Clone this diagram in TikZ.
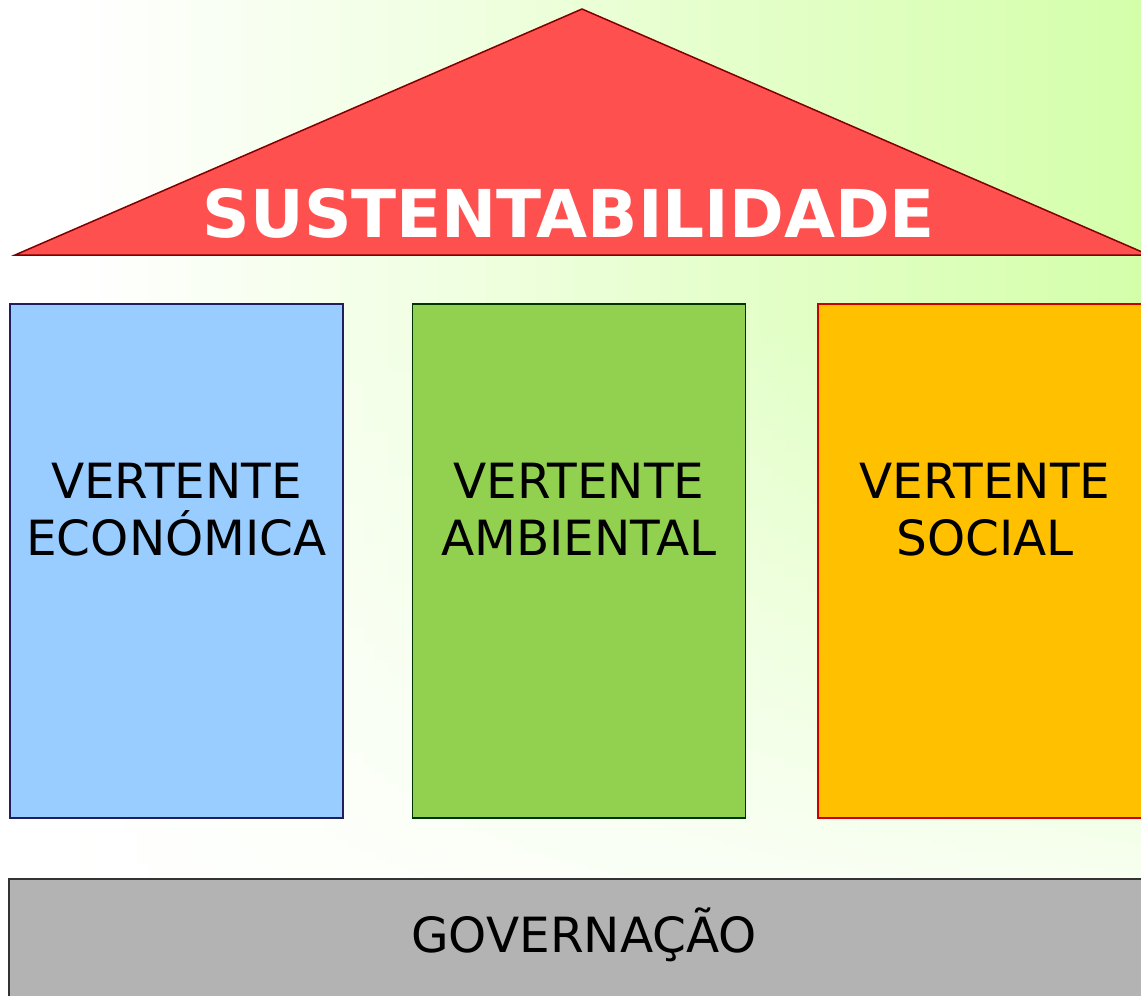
\documentclass[tikz,border=0pt]{standalone}
\usepackage{fontspec}
\setmainfont{DejaVu Sans}
\usetikzlibrary{fadings}
\definecolor{bggreen}{HTML}{D4FFAA}
\definecolor{roof}{HTML}{FF5050}
\definecolor{roofline}{HTML}{800000}
\definecolor{ecofill}{HTML}{99CCFF}
\definecolor{ecoline}{HTML}{1F1F5F}
\definecolor{ambfill}{HTML}{92D050}
\definecolor{ambline}{HTML}{003300}
\definecolor{socfill}{HTML}{FFC000}
\definecolor{socline}{HTML}{CC0000}
\definecolor{govfill}{HTML}{B3B3B3}
\definecolor{govline}{HTML}{333333}
\tikzset{
  pillar/.style={draw, line width=1.5pt, minimum width=333pt, minimum height=514pt, inner sep=0pt},
  pillartext/.style={font=\fontsize{48.5}{57}\selectfont, align=center, anchor=base, inner sep=0pt},
}
\begin{document}
\begin{tikzpicture}[x=1pt,y=-1pt]
\useasboundingbox (0,0) rectangle (1141,996);
\begin{scope}
\clip (0,0) rectangle (1141,996);
% background
\shade[left color=white, right color=bggreen, shading=axis] (80,0) rectangle (1141,996);
\fill[white] (0,0) rectangle (80,996);
\fill[white, path fading=north] (0,320) rectangle (1141,1000);
% roof
\draw[fill=roof, draw=roofline, line width=1.5pt, line join=miter] (582,9) -- (1149,255) -- (15,255) -- cycle;
\node[font=\fontsize{66}{70}\selectfont\bfseries, text=white, anchor=base, inner sep=0pt] (sus) at (569,237) {SUSTENTABILIDADE};
% pillars
\node[pillar, fill=ecofill, draw=ecoline] (eco) at (176.5,561) {};
\node[pillar, fill=ambfill, draw=ambline] (amb) at (579,561) {};
\node[pillar, fill=socfill, draw=socline] (soc) at (984.5,561) {};
\node[pillartext] (ecot) at (176.5,555) {VERTENTE\\ECONÓMICA};
\node[pillartext] (ambt) at (579,555) {VERTENTE\\AMBIENTAL};
\node[pillartext] (soct) at (985,555) {VERTENTE\\SOCIAL};
% base
\node[draw=govline, fill=govfill, line width=1.5pt, minimum width=1150pt, minimum height=140pt, inner sep=0pt, anchor=north west] (gov) at (8,878) {};
\node[font=\fontsize{48.5}{57}\selectfont, anchor=base, inner sep=0pt] (govt) at (584,952) {GOVERNAÇÃO};
\end{scope}
\end{tikzpicture}
\end{document}
